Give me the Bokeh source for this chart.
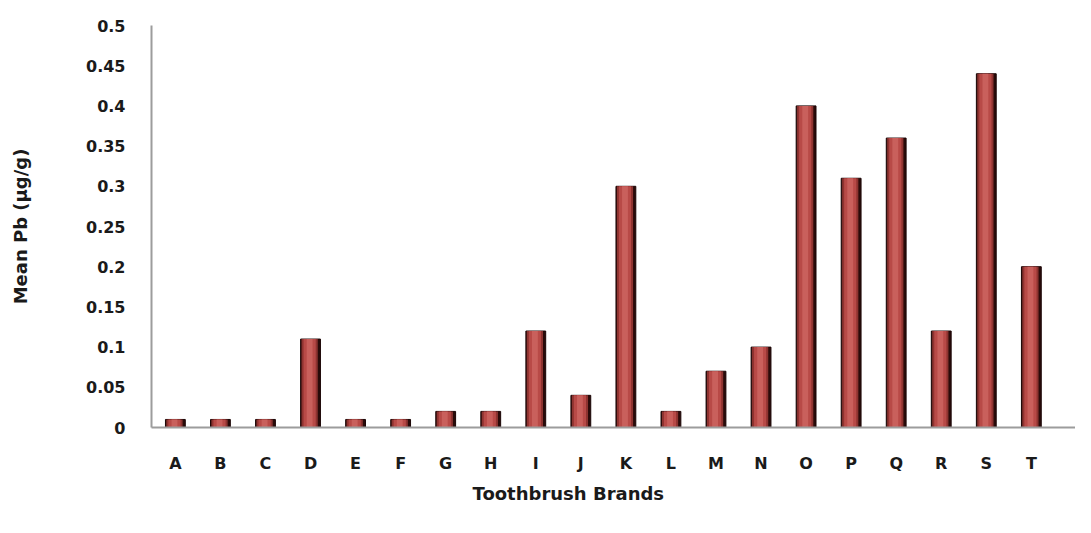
from bokeh.plotting import figure
from bokeh.models import ColumnDataSource, Range1d, FixedTicker, Title
from bokeh.transform import dodge
from bokeh.embed import file_html
from bokeh.resources import INLINE

brands = ["A", "B", "C", "D", "E", "F", "G", "H", "I", "J",
          "K", "L", "M", "N", "O", "P", "Q", "R", "S", "T"]
mean_pb = [0.01, 0.01, 0.01, 0.11, 0.01, 0.01, 0.02, 0.02, 0.12, 0.04,
           0.30, 0.02, 0.07, 0.10, 0.40, 0.31, 0.36, 0.12, 0.44, 0.20]
y_ticks = [0, 0.05, 0.1, 0.15, 0.2, 0.25, 0.3, 0.35, 0.4, 0.45, 0.5]
y_tick_labels = ["0", "0.05", "0.1", "0.15", "0.2", "0.25", "0.3", "0.35", "0.4", "0.45", "0.5"]
x_title = "Toothbrush Brands"
y_title = "Mean Pb (μg/g)"

src = ColumnDataSource(dict(x=list(range(len(brands))), top=mean_pb))

FONT = "DejaVu Sans"
W, H = 1075, 517

p = figure(width=W, height=H, output_backend="svg", toolbar_location=None,
           x_range=Range1d(-0.53, 19.98), y_range=Range1d(0, 0.5),
           min_border_left=151, min_border_top=25, min_border_right=0, min_border_bottom=H - 427)
p.outline_line_color = None
p.xgrid.grid_line_color = None
p.ygrid.grid_line_color = None

# bars: layered to mimic the shaded Excel bars
p.vbar(x="x", top="top", width=0.44, source=src, fill_color="#2a0b0a", line_color="#1a0505", line_width=1)
p.vbar(x=dodge("x", -0.02), top="top", width=0.36, source=src, fill_color="#8e3330", line_color=None)
p.vbar(x=dodge("x", -0.02), top="top", width=0.27, source=src, fill_color="#b84a47", line_color=None)
p.vbar(x=dodge("x", -0.02), top="top", width=0.13, source=src, fill_color="#c9605c", line_color=None)

for ax in (p.xaxis[0], p.yaxis[0]):
    ax.axis_line_color = "#9c9c9c"
    ax.axis_line_width = 2
    ax.major_tick_line_color = None
    ax.minor_tick_line_color = None
    ax.major_label_text_font = FONT
    ax.major_label_text_font_style = "bold"
    ax.major_label_text_font_size = "16px"
    ax.major_label_text_color = "#1a1a1a"
    ax.axis_label_text_font = FONT
    ax.axis_label_text_font_style = "bold"
    ax.axis_label_text_font_size = "18px"
    ax.axis_label_text_color = "#1a1a1a"

p.xaxis.ticker = FixedTicker(ticks=list(range(len(brands))))
p.xaxis.major_label_overrides = {i: b for i, b in enumerate(brands)}
p.xaxis.major_label_standoff = 20

p.yaxis.ticker = FixedTicker(ticks=y_ticks)
p.yaxis.major_label_overrides = {t: l for t, l in zip(y_ticks, y_tick_labels)}
p.yaxis.major_label_standoff = 20
p.yaxis.axis_label = y_title
p.yaxis.axis_label_standoff = 52

p.add_layout(Title(text=x_title, align="left", offset=321, standoff=11,
                   text_font=FONT, text_font_style="bold", text_font_size="18px",
                   text_color="#1a1a1a"), "below")

open("out.html", "w").write(file_html(p, INLINE))
